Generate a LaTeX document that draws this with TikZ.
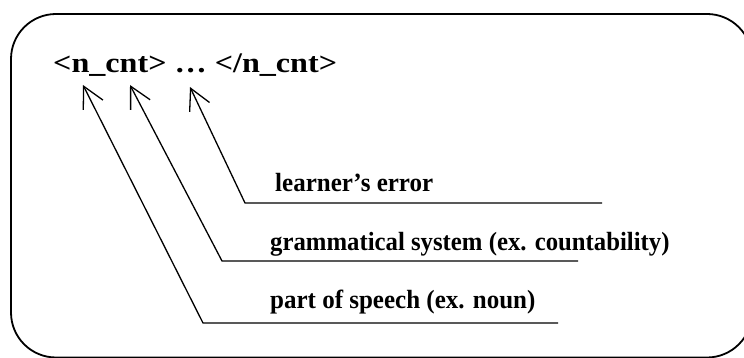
\documentclass[tikz,border=0pt]{standalone}
\usepackage{fontspec}
\setmainfont{Liberation Serif}
\usetikzlibrary{arrows.meta}
\begin{document}
\begin{tikzpicture}[x=1pt,y=-1pt,
  frame/.style={line width=1.8pt, rounded corners=45pt},
  pointer/.style={line width=1.3pt, -{Straight Barb[length=21pt,width=22pt,line width=1.3pt]}},
  lbl/.style={anchor=base west, inner sep=0pt, font=\bfseries\fontsize{25}{30}\selectfont},
  ttl/.style={anchor=base west, inner sep=0pt, font=\bfseries\fontsize{27}{32}\selectfont}]
\useasboundingbox (0,0) rectangle (744,358);
\begin{scope}
\clip (0,0) rectangle (744,358);
\draw[frame] (11,14) rectangle (752,357.5);
\end{scope}
\node[ttl] (title) at (53,72.3) {\scalebox{1.19}[1.05]{<n\_cnt> … </n\_cnt>}};
\node[lbl] (err) at (275,191.7) {\scalebox{1}[1.05]{learner’s error}};
\node[lbl] (gram) at (270,250) {\scalebox{0.99}[1.05]{grammatical system (ex. countability)}};
\node[lbl] (pos) at (270,308) {\scalebox{1}[1.05]{part of speech (ex. noun)}};
\coordinate (tip1) at (83,85);
\coordinate (elb1) at (203,323);
\coordinate (end1) at (558,323);
\coordinate (tip2) at (130,85);
\coordinate (elb2) at (222,261);
\coordinate (end2) at (578,261);
\coordinate (tip3) at (190,87);
\coordinate (elb3) at (245,203);
\coordinate (end3) at (602,203);
\draw[pointer] (end1) -- (elb1) -- (tip1);
\draw[pointer] (end2) -- (elb2) -- (tip2);
\draw[pointer] (end3) -- (elb3) -- (tip3);
\end{tikzpicture}
\end{document}
